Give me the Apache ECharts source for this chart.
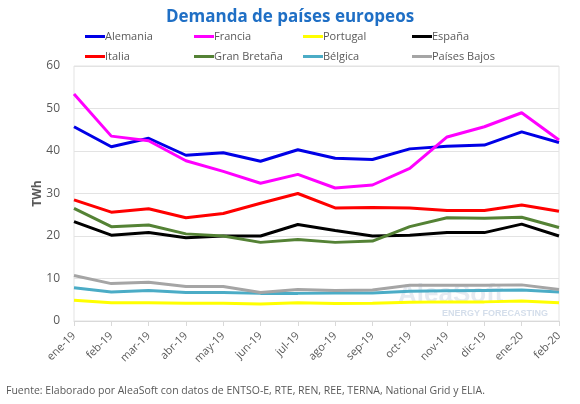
<!DOCTYPE html>
<html>
<head>
<meta charset="utf-8">
<script src="https://cdn.jsdelivr.net/npm/echarts@6/dist/echarts.min.js"></script>
<style>
  html, body { margin: 0; padding: 0; background: #fff; }
  #chart { width: 580px; height: 404px; }
</style>
</head>
<body>
<div id="chart"></div>
<script>
const meses = ['ene-19', 'feb-19', 'mar-19', 'abr-19', 'may-19', 'jun-19', 'jul-19',
  'ago-19', 'sep-19', 'oct-19', 'nov-19', 'dic-19', 'ene-20', 'feb-20']

const alemania = [45.7, 41.0, 43.0, 39.0, 39.6, 37.6, 40.3, 38.3, 38.0, 40.5, 41.1, 41.4, 44.5, 42.0]
const francia = [53.4, 43.5, 42.4, 37.7, 35.2, 32.4, 34.5, 31.3, 32.0, 35.9, 43.3, 45.7, 49.0, 42.6]
const portugal = [4.9, 4.3, 4.3, 4.2, 4.2, 4.0, 4.3, 4.1, 4.2, 4.4, 4.5, 4.5, 4.7, 4.3]
const espana = [23.4, 20.2, 20.8, 19.6, 20.0, 20.0, 22.7, 21.3, 20.0, 20.2, 20.8, 20.8, 22.8, 20.0]
const italia = [28.5, 25.6, 26.4, 24.3, 25.3, 27.7, 30.0, 26.6, 26.7, 26.6, 26.0, 26.0, 27.3, 25.8]
const granBretana = [26.5, 22.2, 22.6, 20.5, 20.0, 18.5, 19.2, 18.5, 18.8, 22.2, 24.3, 24.2, 24.4, 22.0]
const belgica = [7.8, 6.8, 7.2, 6.7, 6.7, 6.5, 6.5, 6.6, 6.6, 7.0, 7.1, 7.2, 7.3, 6.8]
const paisesBajos = [10.7, 8.8, 9.1, 8.1, 8.1, 6.7, 7.4, 7.2, 7.3, 8.4, 8.4, 8.4, 8.5, 7.4]

const paises = [
  { nombre: 'Alemania', datos: alemania, color: '#0000e6' },
  { nombre: 'Francia', datos: francia, color: '#ff00ff' },
  { nombre: 'Portugal', datos: portugal, color: '#ffff00' },
  { nombre: 'España', datos: espana, color: '#000000' },
  { nombre: 'Italia', datos: italia, color: '#ff0000' },
  { nombre: 'Gran Bretaña', datos: granBretana, color: '#548235' },
  { nombre: 'Bélgica', datos: belgica, color: '#4bacc6' },
  { nombre: 'Países Bajos', datos: paisesBajos, color: '#a5a5a5' },
]

const fuente = "'Open Sans', 'Noto Sans', sans-serif"
const gris = '#595959'

// una leyenda por serie para fijar las columnas
const colX = [85, 194, 303, 412]
const filaY = [31, 51]
const leyendas = paises.map((p, i) => ({
  left: colX[i % 4],
  top: filaY[Math.floor(i / 4)],
  data: [p.nombre],
  icon: 'rect',
  itemWidth: 20,
  itemHeight: 3,
  itemGap: 0,
  padding: 0,
  selectedMode: false,
  textStyle: { color: gris, fontSize: 11, fontFamily: fuente, padding: [0, 0, 0, -5] },
}))

const chart = echarts.init(document.getElementById('chart'))
chart.setOption({
  animation: false,
  title: {
    text: 'Demanda de países europeos',
    left: 'center',
    top: 4,
    textStyle: { color: '#1f6fc5', fontSize: 17, fontWeight: 'bold', fontFamily: fuente },
  },
  legend: leyendas,
  grid: {
    left: 74, right: 21, top: 66, bottom: 83,
    show: true, borderColor: '#e3e3e3', borderWidth: 1,
  },
  xAxis: {
    type: 'category',
    data: meses,
    boundaryGap: false,
    axisLine: { lineStyle: { color: '#d9d9d9' } },
    axisTick: { lineStyle: { color: '#d9d9d9' } },
    axisLabel: { rotate: 45, color: gris, fontSize: 11, fontFamily: fuente, margin: 13 },
  },
  yAxis: {
    type: 'value',
    min: 0,
    max: 60,
    interval: 10,
    name: 'TWh',
    nameLocation: 'middle',
    nameGap: 30,
    nameMoveOverlap: false,
    nameTextStyle: { color: gris, fontSize: 12, fontWeight: 'bold', fontFamily: fuente },
    axisLabel: { color: gris, fontSize: 12, fontFamily: fuente, margin: 14 },
    splitLine: { lineStyle: { color: '#e3e3e3' } },
  },
  graphic: [
    {
      type: 'text', left: 6, top: 386,
      style: {
        text: 'Fuente: Elaborado por AleaSoft con datos de ENTSO-E, RTE, REN, REE, TERNA, National Grid y ELIA.',
        fill: gris, font: '10.5px ' + fuente,
      },
    },
    {
      type: 'text', left: 398, top: 282, z: 0,
      style: { text: 'AleaSoft', fill: 'rgba(180,195,215,0.35)', font: 'bold 26px Arial, sans-serif' },
    },
    {
      type: 'text', left: 442, top: 309, z: 0,
      style: { text: 'ENERGY FORECASTING', fill: 'rgba(170,190,215,0.5)', font: 'bold 9px Arial, sans-serif' },
    },
  ],
  series: paises.map((p) => ({
    name: p.nombre,
    type: 'line',
    data: p.datos,
    symbol: 'none',
    lineStyle: { color: p.color, width: 3 },
    itemStyle: { color: p.color },
  })),
})
</script>
</body>
</html>
